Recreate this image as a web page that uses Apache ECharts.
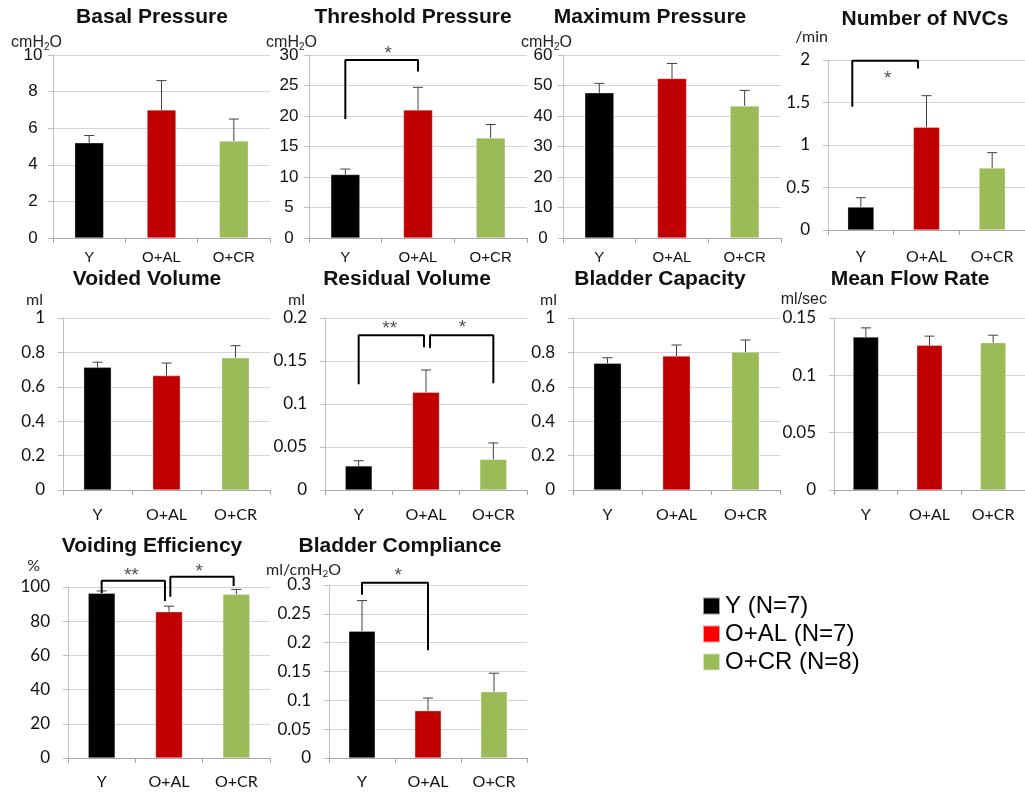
<!DOCTYPE html>
<html>
<head>
<meta charset="utf-8">
<script src="https://cdn.jsdelivr.net/npm/echarts@6/dist/echarts.min.js"></script>
<style>
html,body{margin:0;padding:0;background:#fff;}
#main{width:1025px;height:793px;}
</style>
</head>
<body>
<div id="main"></div>
<script>
// ---------------- DATA ----------------
const categories = ['Y', 'O+AL', 'O+CR'];
const groupNames = ['Y (N=7)', 'O+AL (N=7)', 'O+CR (N=8)'];

const panelTitles = ['Basal Pressure', 'Threshold Pressure', 'Maximum Pressure', 'Number of NVCs',
  'Voided Volume', 'Residual Volume', 'Bladder Capacity', 'Mean Flow Rate',
  'Voiding Efficiency', 'Bladder Compliance'];
const panelUnits = ['cmH{sub|2}O', 'cmH{sub|2}O', 'cmH{sub|2}O', '/min',
  'ml', 'ml', 'ml', 'ml/sec', '%', 'ml/cmH{sub|2}O'];
const axisMax = [10, 30, 60, 2, 1, 0.2, 1, 0.15, 100, 0.3];
const axisInterval = [2, 5, 10, 0.5, 0.2, 0.05, 0.2, 0.05, 20, 0.05];

const basalMean = [5.2, 7.0, 5.3];          const basalErr = [0.4, 1.6, 1.2];
const thresholdMean = [10.4, 21.0, 16.4];   const thresholdErr = [0.9, 3.7, 2.2];
const maximumMean = [47.6, 52.3, 43.3];     const maximumErr = [3.1, 4.9, 5.1];
const nvcMean = [0.27, 1.21, 0.73];         const nvcErr = [0.11, 0.37, 0.18];
const voidedMean = [0.713, 0.665, 0.769];   const voidedErr = [0.03, 0.073, 0.07];
const residualMean = [0.028, 0.1136, 0.0357]; const residualErr = [0.006, 0.026, 0.019];
const capacityMean = [0.737, 0.779, 0.802]; const capacityErr = [0.032, 0.064, 0.07];
const flowMean = [0.1334, 0.1262, 0.1285];  const flowErr = [0.008, 0.008, 0.0065];
const efficiencyMean = [96.3, 85.5, 95.7];  const efficiencyErr = [1.4, 3.3, 2.9];
const complianceMean = [0.220, 0.082, 0.115]; const complianceErr = [0.053, 0.022, 0.032];

// significance brackets: [x (category index units), y (data units)] points
const thresholdBrackets = [[[0, 19.5], [0, 29.2], [1, 29.2], [1, 27.3]]];
const thresholdStars = [[0.59, 30.2, '*']];
const nvcBrackets = [[[-0.13, 1.45], [-0.13, 1.99], [0.87, 1.99], [0.87, 1.90]]];
const nvcStars = [[0.41, 1.78, '*']];
const residualBrackets = [
  [[0, 0.123], [0, 0.180], [0.97, 0.180], [0.97, 0.166]],
  [[1.06, 0.165], [1.06, 0.180], [2, 0.180], [2, 0.124]]
];
const residualStars = [[0.46, 0.187, '**'], [1.54, 0.189, '*']];
const efficiencyBrackets = [
  [[0, 96.5], [0, 103.7], [0.94, 103.7], [0.94, 91.8]],
  [[1.02, 94.3], [1.02, 106], [1.96, 106], [1.96, 100.6]]
];
const efficiencyStars = [[0.44, 106.8, '**'], [1.45, 109, '*']];
const complianceBrackets = [[[0, 0.283], [0, 0.304], [1, 0.304], [1, 0.187]]];
const complianceStars = [[0.55, 0.316, '*']];

const means = [basalMean, thresholdMean, maximumMean, nvcMean, voidedMean, residualMean,
  capacityMean, flowMean, efficiencyMean, complianceMean];
const errs = [basalErr, thresholdErr, maximumErr, nvcErr, voidedErr, residualErr,
  capacityErr, flowErr, efficiencyErr, complianceErr];
const brackets = [[], thresholdBrackets, [], nvcBrackets, [], residualBrackets, [], [], efficiencyBrackets, complianceBrackets];
const stars = [[], thresholdStars, [], nvcStars, [], residualStars, [], [], efficiencyStars, complianceStars];

// ---------------- STYLE / LAYOUT ----------------
const barColors = ['#000000', '#C00000', '#9BBB59'];
const legendColors = ['#000000', '#FF0000', '#9BBB59'];
const ARIAL = '"Liberation Sans", Arial, sans-serif';
const CAL = 'Lato, "Open Sans", sans-serif';

// grid rectangles [left, top, width, height]
const grids = [
  [53, 55, 217, 183], [309, 55, 218, 183], [563, 55, 218, 183], [828, 60, 207, 170],
  [63, 318, 207, 172], [325, 318, 202, 172], [573, 318, 207, 172], [834, 318, 201, 172],
  [68, 587, 202, 171], [329, 585, 198, 173]
];
const titleCenters = [[152, 7], [413, 7], [650, 7], [925, 9], [147, 269], [407, 269], [660, 269], [910, 269], [152, 536], [400, 536]];
const unitPos = [[62, 33], [317, 33], [572, 33], [828, 29], [43, 292], [305, 292], [557, 292], [827, 292], [40, 558], [341, 560]];
const arialPanel = [true, true, true, false, false, false, false, false, false, false];
const unitArial = [true, true, true, false, false, false, false, true, false, false];
const xLabelMargin = [12, 12, 12, 19, 17, 17, 17, 17, 16, 16];

function renderErr(params, api) {
  const x = api.value(0), m = api.value(1), e = api.value(2);
  const p0 = api.coord([x, m]);
  const p1 = api.coord([x, m + e]);
  const cap = 5;
  const st = { stroke: '#404040', lineWidth: 1 };
  return {
    type: 'group',
    children: [
      { type: 'line', shape: { x1: p0[0], y1: p0[1], x2: p1[0], y2: p1[1] }, style: st },
      { type: 'line', shape: { x1: p1[0] - cap, y1: p1[1], x2: p1[0] + cap, y2: p1[1] }, style: st }
    ]
  };
}

const option = {
  animation: false,
  backgroundColor: '#ffffff',
  title: [],
  grid: [],
  xAxis: [],
  yAxis: [],
  series: [],
  legend: {
    orient: 'vertical',
    left: 697, top: 589,
    itemWidth: 17, itemHeight: 17, itemGap: 4,
    icon: 'rect',
    selectedMode: false,
    textStyle: { fontFamily: ARIAL, fontSize: 24, color: '#000' },
    data: groupNames.map((n, i) => ({ name: n, itemStyle: { color: legendColors[i] } }))
  }
};

for (let i = 0; i < 10; i++) {
  const g = grids[i];
  const ff = arialPanel[i] ? ARIAL : CAL;
  option.title.push({
    text: panelTitles[i], left: titleCenters[i][0], top: titleCenters[i][1], textAlign: 'center', padding: 0,
    textStyle: { fontFamily: ARIAL, fontWeight: 'bold', fontSize: 21, color: '#111' }
  });
  const uf = unitArial[i] ? ARIAL : CAL;
  option.title.push({
    text: panelUnits[i], left: unitPos[i][0], top: unitPos[i][1], textAlign: 'right', padding: 0,
    textStyle: {
      fontFamily: uf, fontWeight: 'normal', fontSize: 16, color: '#222',
      rich: { sub: { fontFamily: uf, fontSize: 10, color: '#222', padding: [9, 0, 0, 0] } }
    }
  });
  option.grid.push({ left: g[0], top: g[1], width: g[2], height: g[3], containLabel: false });
  option.xAxis.push({
    type: 'category', gridIndex: i, data: categories,
    axisLine: { onZero: false, lineStyle: { color: '#a6a6a6' } },
    axisTick: { show: true, length: 5, interval: 0, lineStyle: { color: '#a6a6a6' } },
    axisLabel: { fontFamily: ff, fontSize: arialPanel[i] ? 15 : 16, color: '#111', margin: xLabelMargin[i], interval: 0 }
  });
  option.xAxis.push({ type: 'value', gridIndex: i, min: -0.5, max: 2.5, show: false });
  option.yAxis.push({
    type: 'value', gridIndex: i, min: 0, max: axisMax[i], interval: axisInterval[i],
    axisLine: { show: true, onZero: false, lineStyle: { color: '#bfbfbf' } },
    axisTick: { show: true, length: 5, lineStyle: { color: '#bfbfbf' } },
    splitLine: { lineStyle: { color: '#d4d4d4' } },
    axisLabel: arialPanel[i]
      ? { fontFamily: ARIAL, fontSize: 17, color: '#111', align: 'center', margin: 20 }
      : { fontFamily: CAL, fontSize: 17, color: '#111', margin: 18 }
  });
  for (let k = 0; k < 3; k++) {
    option.series.push({
      type: 'bar', name: groupNames[k], xAxisIndex: 2 * i, yAxisIndex: i,
      barWidth: '40%', barGap: '-100%',
      itemStyle: { color: barColors[k], borderColor: 'rgba(255,255,255,0.6)', borderWidth: 0.5 },
      data: means[i].map((v, j) => (j === k ? v : '-'))
    });
  }
  option.series.push({
    type: 'custom', xAxisIndex: 2 * i, yAxisIndex: i, silent: true, z: 5,
    renderItem: renderErr,
    data: means[i].map((v, j) => [j, v, errs[i][j]])
  });
  brackets[i].forEach(b => {
    option.series.push({
      type: 'line', xAxisIndex: 2 * i + 1, yAxisIndex: i, silent: true, clip: false, z: 6,
      symbol: 'none', lineStyle: { color: '#000', width: 2 }, data: b
    });
  });
  if (stars[i].length) {
    option.series.push({
      type: 'scatter', xAxisIndex: 2 * i + 1, yAxisIndex: i, silent: true, clip: false, z: 7,
      symbolSize: 1, itemStyle: { color: 'rgba(0,0,0,0)' },
      label: { show: true, position: 'inside', formatter: p => p.data[2], fontFamily: ARIAL, fontSize: 19, color: '#222', fontWeight: 'normal' },
      data: stars[i]
    });
  }
}

const chart = echarts.init(document.getElementById('main'), null, { renderer: 'canvas' });
chart.setOption(option);
</script>
</body>
</html>
